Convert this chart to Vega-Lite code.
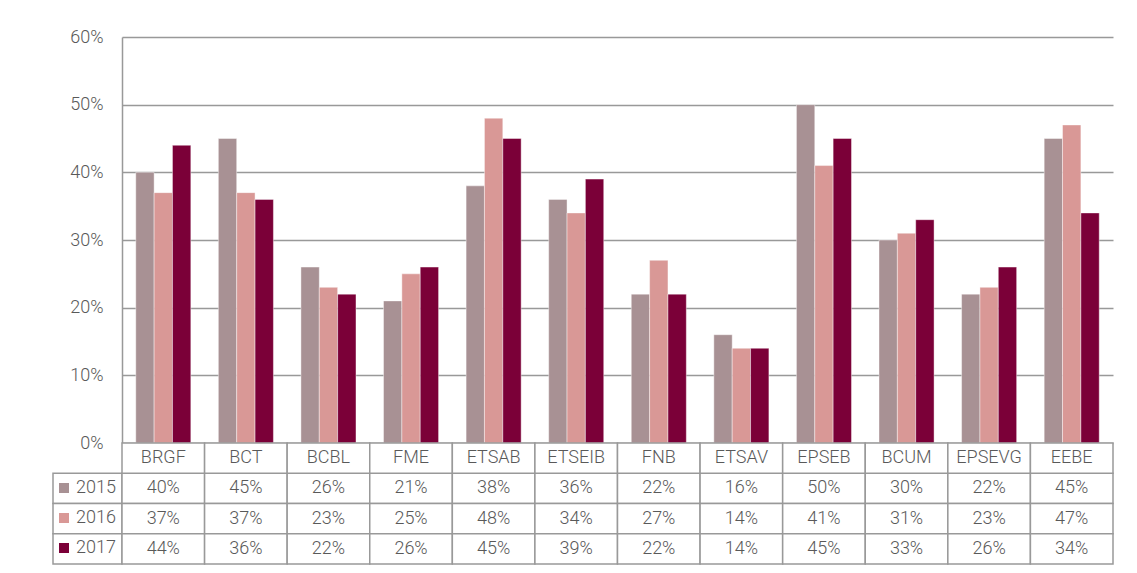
{
  "$schema": "https://vega.github.io/schema/vega-lite/v6.json",
  "background": "white",
  "padding": {"left": 52, "top": 28, "right": 5, "bottom": 5},
  "datasets": {
    "scores": [
      {"category": "BRGF", "year": "2015", "value": 0.40},
      {"category": "BRGF", "year": "2016", "value": 0.37},
      {"category": "BRGF", "year": "2017", "value": 0.44},
      {"category": "BCT", "year": "2015", "value": 0.45},
      {"category": "BCT", "year": "2016", "value": 0.37},
      {"category": "BCT", "year": "2017", "value": 0.36},
      {"category": "BCBL", "year": "2015", "value": 0.26},
      {"category": "BCBL", "year": "2016", "value": 0.23},
      {"category": "BCBL", "year": "2017", "value": 0.22},
      {"category": "FME", "year": "2015", "value": 0.21},
      {"category": "FME", "year": "2016", "value": 0.25},
      {"category": "FME", "year": "2017", "value": 0.26},
      {"category": "ETSAB", "year": "2015", "value": 0.38},
      {"category": "ETSAB", "year": "2016", "value": 0.48},
      {"category": "ETSAB", "year": "2017", "value": 0.45},
      {"category": "ETSEIB", "year": "2015", "value": 0.36},
      {"category": "ETSEIB", "year": "2016", "value": 0.34},
      {"category": "ETSEIB", "year": "2017", "value": 0.39},
      {"category": "FNB", "year": "2015", "value": 0.22},
      {"category": "FNB", "year": "2016", "value": 0.27},
      {"category": "FNB", "year": "2017", "value": 0.22},
      {"category": "ETSAV", "year": "2015", "value": 0.16},
      {"category": "ETSAV", "year": "2016", "value": 0.14},
      {"category": "ETSAV", "year": "2017", "value": 0.14},
      {"category": "EPSEB", "year": "2015", "value": 0.50},
      {"category": "EPSEB", "year": "2016", "value": 0.41},
      {"category": "EPSEB", "year": "2017", "value": 0.45},
      {"category": "BCUM", "year": "2015", "value": 0.30},
      {"category": "BCUM", "year": "2016", "value": 0.31},
      {"category": "BCUM", "year": "2017", "value": 0.33},
      {"category": "EPSEVG", "year": "2015", "value": 0.22},
      {"category": "EPSEVG", "year": "2016", "value": 0.23},
      {"category": "EPSEVG", "year": "2017", "value": 0.26},
      {"category": "EEBE", "year": "2015", "value": 0.45},
      {"category": "EEBE", "year": "2016", "value": 0.47},
      {"category": "EEBE", "year": "2017", "value": 0.34}
    ]
  },
  "data": {"name": "scores"},
  "columns": 2,
  "spacing": 0,
  "bounds": "flush",
  "align": "each",
  "concat": [
    {
      "width": 69,
      "height": 406,
      "data": {"values": [{}]},
      "mark": {"type": "text", "text": ""},
      "encoding": {}
    },
    {
      "width": 991,
      "height": 406,
      "mark": {"type": "bar", "stroke": "white", "strokeWidth": 0.6, "strokeOpacity": 0.7},
      "encoding": {
        "x": {"field": "category", "type": "nominal", "sort": null, "scale": {"paddingInner": 0.3333, "paddingOuter": 0.1667}, "axis": null},
        "xOffset": {"field": "year", "type": "nominal", "sort": ["2015", "2016", "2017"]},
        "y": {
          "field": "value", "type": "quantitative",
          "scale": {"domain": [0, 0.6], "nice": false},
          "axis": {"values": [0, 0.1, 0.2, 0.3, 0.4, 0.5, 0.6], "format": ".0%", "title": null, "ticks": false, "tickSize": 0, "labelPadding": 19, "domain": true, "grid": true}
        },
        "color": {
          "field": "year", "type": "nominal",
          "scale": {"domain": ["2015", "2016", "2017"], "range": ["#a89194", "#d99896", "#7b0038"]},
          "legend": {
            "orient": "none", "legendX": 2, "legendY": 442, "title": null,
            "symbolType": "square", "symbolSize": 100, "symbolStrokeWidth": 0,
            "labelFontSize": 18, "labelFont": "Roboto", "labelFontWeight": 300, "labelColor": "#595959",
            "labelOffset": 3, "rowPadding": 12, "padding": 0
          }
        }
      }
    },
    {
      "width": 69,
      "height": 121,
      "transform": [{"aggregate": [{"op": "count", "as": "n"}], "groupby": ["year"]}],
      "mark": {"type": "rect", "fill": "white", "stroke": "#999999", "strokeWidth": 1.5},
      "encoding": {
        "y": {"field": "year", "type": "nominal", "scale": {"domain": ["header", "2015", "2016", "2017"], "paddingInner": 0, "paddingOuter": 0}, "axis": null},
        "x": {"value": 0},
        "x2": {"value": "width"}
      }
    },
    {
      "width": 991,
      "height": 121,
      "encoding": {
        "x": {"field": "category", "type": "nominal", "sort": null, "scale": {"paddingInner": 0, "paddingOuter": 0}, "axis": null}
      },
      "layer": [
        {
          "mark": {"type": "rect", "fill": "white", "stroke": "#999999", "strokeWidth": 1.5},
          "encoding": {
            "y": {"field": "year", "type": "nominal", "scale": {"domain": ["header", "2015", "2016", "2017"], "paddingInner": 0, "paddingOuter": 0}, "axis": null}
          }
        },
        {
          "transform": [{"filter": "datum.year === '2015'"}],
          "mark": {"type": "rect", "fill": "white", "stroke": "#999999", "strokeWidth": 1.5},
          "encoding": {
            "y": {"datum": "header", "type": "nominal"}
          }
        },
        {
          "mark": {"type": "text"},
          "encoding": {
            "y": {"field": "year", "type": "nominal"},
            "text": {"field": "value", "type": "quantitative", "format": ".0%"}
          }
        },
        {
          "transform": [{"filter": "datum.year === '2015'"}],
          "mark": {"type": "text"},
          "encoding": {
            "y": {"datum": "header", "type": "nominal"},
            "text": {"field": "category", "type": "nominal"}
          }
        }
      ]
    }
  ],
  "config": {
    "view": {"stroke": null},
    "font": "Roboto",
    "axis": {
      "labelFont": "Roboto", "labelFontWeight": 300, "labelFontSize": 18, "labelColor": "#595959",
      "domainColor": "#999999", "domainWidth": 1.5, "gridColor": "#999999", "gridWidth": 1.5
    },
    "text": {"font": "Roboto", "fontWeight": 300, "fontSize": 18, "color": "#595959"}
  }
}
